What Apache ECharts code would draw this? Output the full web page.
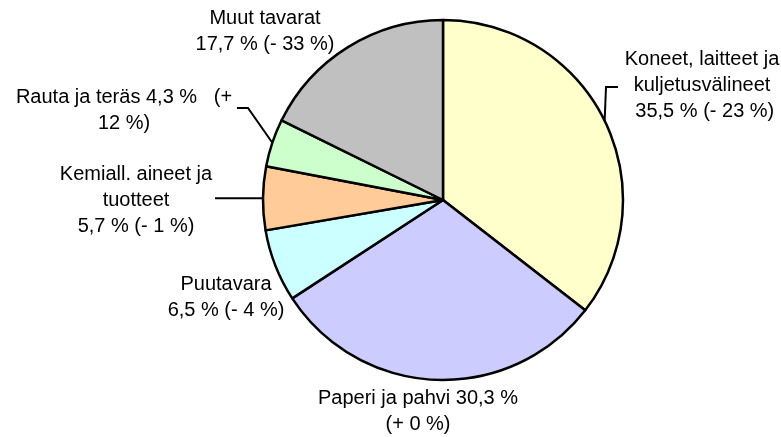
<!DOCTYPE html>
<html>
<head>
<meta charset="utf-8">
<script src="https://cdn.jsdelivr.net/npm/echarts@6/dist/echarts.min.js"></script>
<style>
  html, body { margin: 0; padding: 0; background: #fff; }
  #chart { width: 781px; height: 437px; }
</style>
</head>
<body>
<div id="chart"></div>
<script>
// goods categories, clockwise from 12 o'clock
const categories = [
    "Koneet, laitteet ja kuljetusvälineet",
    "Paperi ja pahvi",
    "Puutavara",
    "Kemiall. aineet ja tuotteet",
    "Rauta ja teräs",
    "Muut tavarat"
];
const shares = [35.5, 30.3, 6.5, 5.7, 4.3, 17.7];
const labelTexts = [
    "Koneet, laitteet ja\nkuljetusvälineet\n 35,5 % (- 23 %)",
    "Paperi ja pahvi 30,3 %\n(+ 0 %)",
    "Puutavara\n6,5 % (- 4 %)",
    "Kemiall. aineet ja\ntuotteet\n5,7 % (- 1 %)",
    "Rauta ja teräs 4,3 %   (+\n12 %)",
    "Muut tavarat\n17,7 % (- 33 %)"
];
const colors = ["#FFFFCC", "#CCCCFF", "#CCFFFF", "#FFCC99", "#CCFFCC", "#C0C0C0"];

// label placement (center of text block) and leader line elbows
const labelPos = [[702, 85], [418, 411], [226, 297], [136, 200], [124, 110], [265, 31]];
const leader = {
    0: (a) => [[606, 87], [618, 87]],
    3: (a) => [[215, a[1]]],
    4: (a) => [[248, 108], [237, 108]]
};

const chart = echarts.init(document.getElementById("chart"));
chart.setOption({
    animation: false,
    textStyle: { fontFamily: "Liberation Sans, Arial, sans-serif" },
    series: [
        {
            type: "pie",
            center: [443, 200],
            radius: 180,
            startAngle: 90,
            clockwise: true,
            itemStyle: { borderColor: "#000", borderWidth: 2.5 },
            label: {
                show: true,
                position: "outside",
                color: "#000",
                fontSize: 20,
                lineHeight: 26,
                align: "center",
                overflow: "none",
                fontFamily: "Liberation Sans, Arial, sans-serif",
                formatter: (p) => labelTexts[p.dataIndex]
            },
            labelLine: { show: true, length: 10, length2: 10, lineStyle: { color: "#000", width: 2 } },
            labelLayout: (p) => {
                const i = p.dataIndex;
                const out = {
                    x: labelPos[i][0],
                    y: labelPos[i][1],
                    align: "center",
                    verticalAlign: "middle"
                };
                if (leader[i] && p.labelLinePoints) {
                    const a = p.labelLinePoints[0];
                    out.labelLinePoints = [a].concat(leader[i](a));
                }
                return out;
            },
            data: categories.map((name, i) => ({
                name: name,
                value: shares[i],
                itemStyle: { color: colors[i] },
                labelLine: { show: !!leader[i] }
            }))
        }
    ]
});
</script>
</body>
</html>
